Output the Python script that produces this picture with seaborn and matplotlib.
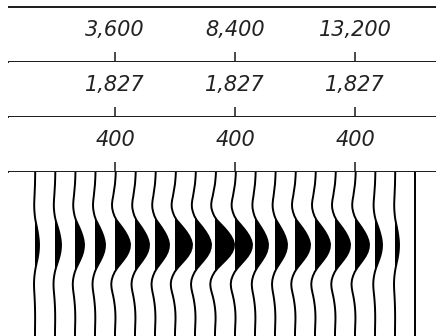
import numpy as np
import pandas as pd
import matplotlib as mpl
mpl.use('Agg')
import matplotlib.pyplot as plt
import matplotlib.transforms as mtransforms
import seaborn as sns

# trace offsets (m), one per wiggle
offsets = [400, 1200, 2000, 2800, 3600, 4400, 5200, 6000, 6800, 7600,
           8400, 9200, 10000, 10800, 11600, 12400, 13200, 14000, 14800, 15600]
# peak amplitude of each trace, in pixels of deflection
peak_px = [4, 6, 9, 10, 15, 14, 14, 17, 16, 19,
           17, 13, 12, 15, 15, 15, 14, 7, 4, 0]

# wavelet read down the traces, 4 ms samples, normalised to the peak
times = [0, 4, 8, 12, 16, 20, 24, 28, 32, 36, 40, 44, 48, 52, 56, 60, 64, 68,
         72, 76, 80, 84, 88, 92, 96, 100, 104, 108, 112, 116, 120, 124, 128,
         132, 136, 140, 144, 148, 152, 156, 160, 164]
wavelet = [0.05, 0.04, 0.02, 0.0, -0.04, -0.08, -0.12, -0.17, -0.2, -0.19,
           -0.13, -0.04, 0.1, 0.3, 0.5, 0.68, 0.83, 0.94, 1.0, 0.98, 0.9,
           0.76, 0.57, 0.36, 0.15, -0.02, -0.14, -0.22, -0.25, -0.23, -0.18,
           -0.12, -0.07, -0.03, 0.0, 0.02, 0.03, 0.03, 0.02, 0.01, 0.0, 0.0]

# header rows shown above the traces
header_ticks = [3600, 8400, 13200]
header_rows = [
    ['3,600', '8,400', '13,200'],
    ['1,827', '1,827', '1,827'],
    ['400', '400', '400'],
]

sns.set_theme(style='white')
plt.rcParams['font.family'] = ['DejaVu Sans']

W, H = 436, 336
fig = plt.figure(figsize=(W / 100, H / 100), dpi=100)
fig.patch.set_facecolor('white')

px_per_m = 20 / 800.0
x_left = offsets[0] - 26 / px_per_m
x_right = x_left + (W - 9) / px_per_m


def frac_rect(left, top, right, bottom):
    return [left / W, 1 - bottom / H, (right - left) / W, (bottom - top) / H]


# header strips
row_edges = [(7, 62), (62, 117), (117, 172)]
for r, (top, bot) in enumerate(row_edges):
    hax = fig.add_axes(frac_rect(9, top, W, bot))
    hax.set_xlim(x_left, x_right)
    hax.set_ylim(0, 1)
    for s in ['left', 'right', 'top']:
        hax.spines[s].set_visible(False)
    if r == 0:
        hax.spines['top'].set_visible(True)
    for s in ['top', 'bottom']:
        hax.spines[s].set_color('#1a1a1a')
        hax.spines[s].set_linewidth(1.4)
    hax.set_yticks([])
    hax.set_xticks(header_ticks)
    hax.set_xticklabels([])
    hax.tick_params(axis='x', direction='in', length=7.5, width=1.1,
                    color='#1a1a1a', bottom=True, top=False)
    trans = mtransforms.blended_transform_factory(hax.transData, hax.transAxes)
    for xv, lab in zip(header_ticks, header_rows[r]):
        hax.text(xv, 0.47, lab, transform=trans, ha='center', va='baseline',
                 fontsize=15, style='italic', color='#222222')

# wiggle traces
ax = fig.add_axes(frac_rect(9, 172, W, H))
t = np.array(times, dtype=float)
w = np.array(wavelet)
rows = []
for i, off in enumerate(offsets):
    amp = peak_px[i] / px_per_m
    xs = off + amp * w
    for tt, xx in zip(t, xs):
        rows.append({'trace': i, 'time': tt, 'x': xx})
df = pd.DataFrame(rows)

sns.lineplot(data=df, x='x', y='time', units='trace', estimator=None,
             orient='y', color='black', lw=1.4, ax=ax, legend=False)

for i, off in enumerate(offsets):
    sub = df[df['trace'] == i]
    ax.fill_betweenx(sub['time'], off, sub['x'], where=sub['x'] > off,
                     interpolate=True, color='black', lw=0)

ax.set_xlim(x_left, x_right)
ax.set_ylim(164, 0)
ax.set_xlabel('')
ax.set_ylabel('')
ax.set_xticks([])
ax.set_yticks([])
for s in ax.spines.values():
    s.set_visible(False)

fig.savefig('out.png', dpi=100, facecolor='white')
